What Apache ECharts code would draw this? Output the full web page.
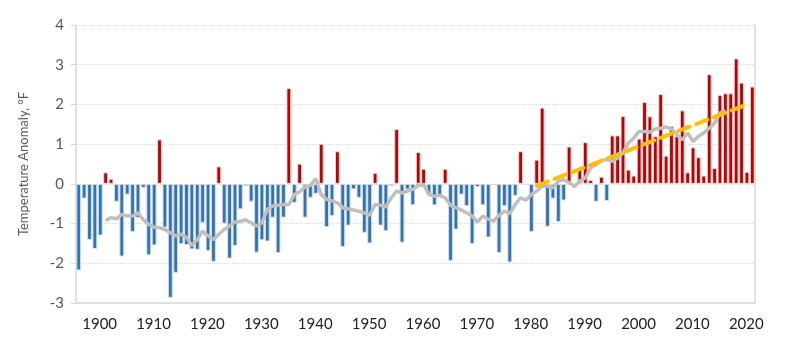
<!DOCTYPE html>
<html>
<head>
<meta charset="utf-8">
<script src="https://cdn.jsdelivr.net/npm/echarts@6/dist/echarts.min.js"></script>
<style>
    html, body { margin: 0; padding: 0; background: #fff; }
    #chart { width: 800px; height: 355px; }
</style>
</head>
<body>
<div id="chart"></div>
<script>
// 年份 1895-2020
var years = [];
for (var y = 1895; y <= 2020; y++) { years.push(String(y)); }

// 年均气温距平 (°F)
var anomaly = [
    -2.18, -0.37, -1.41, -1.64, -1.30,  0.29,  0.13, -0.45, -1.83, -0.27,   // 1895-1904
    -1.21, -0.86, -0.10, -1.80, -1.55,  1.12, -1.10, -2.87, -2.24, -1.52,   // 1905-1914
    -1.54, -1.65, -1.66, -0.98, -1.69, -1.96,  0.44, -1.00, -1.88, -1.56,   // 1915-1924
    -0.64, -0.06, -0.45, -1.73, -1.42, -1.45, -0.85, -1.74, -0.85,  2.41,   // 1925-1934
    -0.48,  0.51, -0.85, -0.35, -0.25,  1.01, -1.09, -0.81,  0.82, -1.59,   // 1935-1944
    -1.05, -0.14, -0.35, -1.23, -1.50,  0.28, -1.05, -1.19, -0.06,  1.38,   // 1945-1954
    -1.48, -0.14, -0.54,  0.80,  0.38, -0.27, -0.54, -0.30,  0.38, -1.94,   // 1955-1964
    -1.15, -0.27, -0.56, -1.51, -0.08, -0.54, -1.35, -0.04, -1.74, -0.56,   // 1965-1974
    -1.98, -0.30,  0.82, -0.02, -1.21,  0.61,  1.92, -1.08, -0.37, -0.96,   // 1975-1984
    -0.42,  0.94, -0.10,  0.40,  1.05,  0.10, -0.45,  0.18, -0.43,  1.22,   // 1985-1994
     1.22,  1.71,  0.36,  0.21,  1.14,  2.06,  1.70,  1.20,  2.26,  0.71,   // 1995-2004
     1.45,  1.20,  1.85,  0.29,  0.92,  0.67,  0.21,  2.76,  0.40,  2.24,   // 2005-2014
     2.28,  2.28,  3.16,  2.55,  0.30,  2.45                                // 2015-2020
];

// 滑动平均 (1900-2015)
var smooth = [
    null, null, null, null, null,                                           // 1895-1899
    -0.92, -0.85, -0.88, -0.77, -0.81, -0.81, -0.73, -0.90, -1.02, -1.09,   // 1900-1909
    -1.10, -1.15, -1.23, -1.31, -1.27, -1.35, -1.55, -1.40, -1.19, -1.31,   // 1910-1919
    -1.40, -1.27, -1.15, -1.06, -0.96, -0.94, -0.91, -0.98, -1.06, -0.98,   // 1920-1929
    -0.64, -0.56, -0.54, -0.52, -0.52, -0.27, -0.20, -0.08, -0.04,  0.13,   // 1930-1939
    -0.27, -0.39, -0.43, -0.48, -0.60, -0.63, -0.66, -0.69, -0.73, -0.79,   // 1940-1949
    -0.52, -0.54, -0.58, -0.35, -0.18, -0.23, -0.18, -0.14, -0.04, -0.02,   // 1950-1959
    -0.27, -0.31, -0.29, -0.35, -0.54, -0.60, -0.66, -0.73, -0.81, -0.96,   // 1960-1969
    -0.81, -0.89, -0.94, -0.79, -0.69, -0.75, -0.52, -0.35, -0.41, -0.27,   // 1970-1979
    -0.18, -0.06, -0.06, -0.10,  0.07,  0.11,  0.03, -0.06,  0.07,  0.15,   // 1980-1989
     0.40,  0.48,  0.59,  0.61,  0.57,  0.65,  0.78,  1.03,  1.15,  1.32,   // 1990-1999
     1.32,  1.30,  1.38,  1.40,  1.43,  1.38,  1.24,  1.11,  1.28,  1.07,   // 2000-2009
     1.20,  1.28,  1.40,  1.53,  1.78,  1.85,                               // 2010-2015
    null, null, null, null, null                                            // 2016-2020
];

// 趋势线 (1980-2019)
var trendYears = ['1980', '2019'];
var trendValues = [-0.05, 2.0];

var yTicks = [-3, -2, -1, 0, 1, 2, 3, 4];

var fontName = 'Lato';
var isDecade = function (index, value) { return Number(value) % 10 === 0; };

var myChart = echarts.init(document.getElementById('chart'));

var option = {
    animation: false,
    grid: { left: 76, right: 45, top: 25, bottom: 52 },
    xAxis: {
        type: 'category',
        data: years,
        boundaryGap: true,
        axisLine: { onZero: false, lineStyle: { color: '#d9d9d9', width: 1.5 } },
        axisTick: { alignWithLabel: true, interval: isDecade, length: 6, lineStyle: { color: '#d9d9d9' } },
        axisLabel: {
            interval: isDecade, margin: 14, color: '#222',
            fontFamily: fontName, fontSize: 15,
            padding: [0, 12, 0, 0]   // 标签略偏左, 同原图
        },
        splitLine: { show: false }
    },
    yAxis: [{
        type: 'value',
        min: yTicks[0],
        max: yTicks[yTicks.length - 1],
        interval: 1,
        name: 'Temperature Anomaly, \u00B0F',
        nameLocation: 'middle',
        nameGap: 46,
        nameTextStyle: { color: '#595959', fontFamily: fontName, fontSize: 13 },
        axisLine: { show: true, lineStyle: { color: '#d9d9d9', width: 1.5 } },
        axisTick: { show: true, length: 5, lineStyle: { color: '#d9d9d9' } },
        axisLabel: { margin: 12, color: '#595959', fontFamily: fontName, fontSize: 15 },
        splitLine: { lineStyle: { color: '#d9d9d9', type: 'dotted' } }
    }, {
        type: 'value',
        position: 'right',
        min: yTicks[0],
        max: yTicks[yTicks.length - 1],
        axisLine: { show: true, lineStyle: { color: '#d9d9d9', width: 1.5 } },
        axisTick: { show: false },
        axisLabel: { show: false },
        splitLine: { show: false }
    }],
    series: [{
        name: '距平',
        type: 'bar',
        data: anomaly,
        barCategoryGap: '10%',
        itemStyle: {
            color: function (p) { return p.value >= 0 ? '#c00000' : '#2e75b6'; },
            borderColor: '#dcdcdc',
            borderWidth: 1
        }
    }, {
        name: '滑动平均',
        type: 'line',
        data: smooth,
        symbol: 'none',
        z: 3,
        lineStyle: { color: '#bfbfbf', width: 3.5 }
    }, {
        name: '趋势',
        type: 'line',
        data: trendYears.map(function (yr, i) { return [yr, trendValues[i]]; }),
        symbol: 'none',
        z: 4,
        lineStyle: { color: '#ffc000', width: 4, type: [12, 7], cap: 'round' }
    }]
};

myChart.setOption(option);
</script>
</body>
</html>
